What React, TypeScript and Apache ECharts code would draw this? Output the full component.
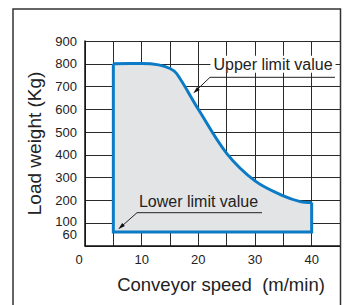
import React, { useEffect, useRef } from "react";
import * as echarts from "echarts";

const xTickLabels = [0, 10, 20, 30, 40];
const yTickLabels = [100, 200, 300, 400, 500, 600, 700, 800, 900];
const yExtraLabels = [60];
const upperCurve: [number, number][] = [
  [5, 800], [10, 801], [13, 795], [15, 779], [16.2, 756],
  [20, 600], [25, 406], [30, 285], [35, 219], [38, 194], [40, 190],
];
const limitOutline: [number, number][] = [[40, 190], [40, 60], [5, 60], [5, 800]];
const lowerLimit = 60;

const BLUE = "#0b7bc6";
const FILL = "#e3e4e6";
const FONT = "Liberation Sans, Arial, sans-serif";

export default function App() {
  const ref = useRef<HTMLDivElement>(null);
  useEffect(() => {
    document.body.style.margin = "0";
    const chart = echarts.init(ref.current!, null, { renderer: "svg" });
    const labelStyle = { fontFamily: FONT, fontSize: 13, color: "#222" };
    chart.setOption({
      animation: false,
      backgroundColor: "#fff",
      grid: { left: 85, right: 9, top: 41, bottom: 59.25 },
      xAxis: {
        type: "value", min: 0, max: 45, interval: 5,
        name: "Conveyor speed  (m/min)", nameLocation: "middle", nameGap: 29,
        nameTextStyle: { fontFamily: FONT, fontSize: 18.5, color: "#222", padding: [0, 0, 0, 17] },
        axisLine: { show: true, onZero: false, lineStyle: { color: "#111", width: 1.5 } },
        axisTick: { show: false },
        axisLabel: {
          customValues: xTickLabels, margin: 7, ...labelStyle,
          formatter: (v: number) => (v === 0 ? "{z|0}" : String(v)),
          rich: { z: { ...labelStyle, padding: [0, 12, 0, 0] } },
        },
        splitLine: { show: true, lineStyle: { color: "#2a2a2a", width: 1 } },
      },
      yAxis: [
        {
          type: "value", min: 0, max: 900, interval: 100,
          name: "Load weight (Kg)", nameLocation: "middle", nameGap: 39,
          nameTextStyle: { fontFamily: FONT, fontSize: 19, color: "#222" },
          axisLine: { show: true, onZero: false, lineStyle: { color: "#111", width: 1.5 } },
          axisTick: { show: false },
          axisLabel: {
            customValues: yTickLabels, margin: 8, ...labelStyle, lineHeight: 10,
            formatter: (v: number) => (v === 100 ? `{u|${v}}` : String(v)),
            rich: { u: { ...labelStyle, lineHeight: 10, padding: [0, 0, 4, 0] } },
          },
          splitLine: { show: true, lineStyle: { color: "#2a2a2a", width: 1 } },
        },
        {
          type: "value", min: 0, max: 900, interval: 100, position: "left",
          axisLine: { show: false }, axisTick: { show: false }, splitLine: { show: false },
          axisLabel: {
            customValues: yExtraLabels, margin: 8, ...labelStyle, lineHeight: 10,
            formatter: (v: number) => `{s|${v}}`,
            rich: { s: { ...labelStyle, lineHeight: 10, padding: [5.6, 0, 0, 0] } },
          },
        },
      ],
      series: [
        {
          type: "line", data: upperCurve, smooth: 0.35,
          showSymbol: false, lineStyle: { color: BLUE, width: 3 },
          areaStyle: { color: FILL, opacity: 1, origin: lowerLimit }, z: 3,
        },
        {
          type: "line", data: limitOutline, showSymbol: false,
          lineStyle: { color: BLUE, width: 3, join: "miter" }, z: 4,
        },
      ],
      graphic: [
        { type: "rect", shape: { x: 13, y: 9, width: 327.5, height: 320 }, style: { fill: "none", stroke: "#333", lineWidth: 1.5 }, z: 100 },
        { type: "line", shape: { x1: 210, y1: 77.3, x2: 335, y2: 77.3 }, style: { stroke: "#222", lineWidth: 1 }, z: 100 },
        { type: "line", shape: { x1: 210, y1: 77.3, x2: 196, y2: 90.7 }, style: { stroke: "#222", lineWidth: 1 }, z: 100 },
        { type: "polygon", shape: { points: [[193.3, 93.3], [199.8, 89.9], [197, 87.1]] }, style: { fill: "#111" }, z: 100 },
        { type: "line", shape: { x1: 137, y1: 212.7, x2: 262, y2: 212.7 }, style: { stroke: "#222", lineWidth: 1 }, z: 100 },
        { type: "line", shape: { x1: 137, y1: 212.7, x2: 121, y2: 226.9 }, style: { stroke: "#222", lineWidth: 1 }, z: 100 },
        { type: "polygon", shape: { points: [[118.3, 229.3], [124.9, 226.1], [122.2, 223.1]] }, style: { fill: "#111" }, z: 100 },
        {
          type: "text", x: 273, y: 64.3, z: 101,
          style: { text: "Upper limit value", fontFamily: FONT, fontSize: 16, fill: "#222", align: "center", verticalAlign: "middle", backgroundColor: "#fff", padding: [1, 3, 0, 3] },
        },
        {
          type: "text", x: 198.5, y: 201.7, z: 101,
          style: { text: "Lower limit value", fontFamily: FONT, fontSize: 16, fill: "#222", align: "center", verticalAlign: "middle", backgroundColor: FILL, padding: [1, 3, 0, 3] },
        },
      ],
    });
    return () => chart.dispose();
  }, []);
  return <div ref={ref} style={{ width: 349, height: 305 }} />;
}
